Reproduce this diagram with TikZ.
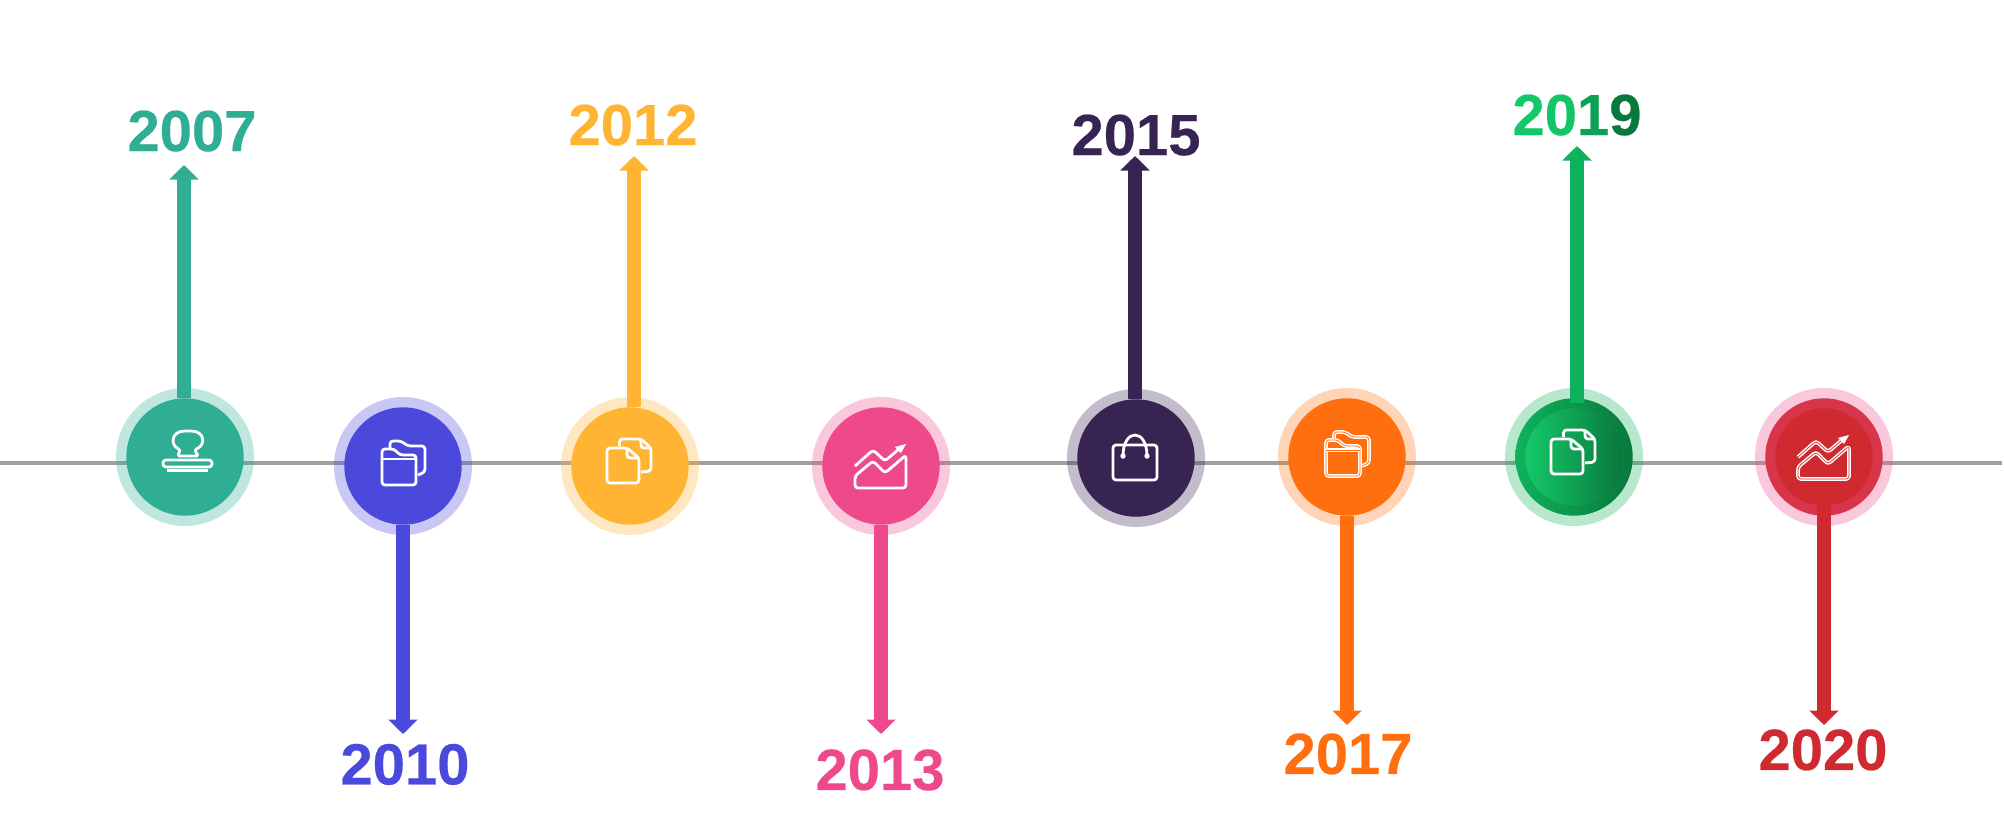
\documentclass[tikz,border=0pt]{standalone}
\usepackage{fontspec}
\setmainfont[BoldFeatures={FakeBold=0.4}]{Liberation Sans}
\usepackage{xcolor}
\usetikzlibrary{arrows.meta, positioning}
\definecolor{hubteal}{RGB}{47,174,148}
\definecolor{hubindigo}{RGB}{75,73,219}
\definecolor{hubamber}{RGB}{255,180,51}
\definecolor{hubpink}{RGB}{238,74,139}
\definecolor{hubplum}{RGB}{56,36,83}
\definecolor{huborange}{RGB}{255,111,16}
\definecolor{hubgreen}{RGB}{15,178,92}
\definecolor{hubgreenlight}{RGB}{20,200,105}
\definecolor{hubgreendark}{RGB}{9,120,60}
\definecolor{hubred}{RGB}{207,42,48}
\definecolor{hubredlight}{RGB}{216,52,74}
\definecolor{axisgray}{RGB}{160,160,160}

\tikzset{
  iconline/.style={draw=white, line width=1.4pt, rounded corners=1.5pt, line join=round},
  pics/stampicon/.style={code={
    \draw[iconline] (-8,-1) -- (-4,-7) .. controls (-15,-12) and (-14,-26) .. (3,-26)
      .. controls (20,-26) and (21,-12) .. (9,-7) -- (14,-1) -- cycle;
    \draw[iconline] (-22,3) rectangle (27,10);
    \draw[iconline] (-18,13.5) -- (23,13.5);
  }},
  pics/foldericon/.style={code={
    \draw[iconline,#1] (-21,19) -- (-21,-17) -- (-9,-17) -- (-3,-11) -- (13,-11) -- (13,19) -- cycle;
    \draw[iconline,#1] (-21,-7) -- (13,-7);
    \draw[iconline,#1] (-13,-18) -- (-13,-25) -- (-2,-25) -- (5,-20) -- (22,-20) -- (22,6) -- (15,9);
  }},
  pics/foldericon/.default={},
  pics/pageicon/.style={code={
    \draw[iconline] (-23,17) -- (-23,-18) -- (-3,-18) -- (9,-8) -- (9,17) -- cycle;
    \draw[iconline] (-3,-18) -- (-3,-8) -- (9,-8);
    \draw[iconline] (-10.5,-20) -- (-10.5,-27) -- (11,-27) -- (21,-18) -- (21,5) -- (11,6);
    \draw[iconline] (11,-27) -- (11,-18) -- (21,-18);
  }},
  pics/charticon/.style={code={
    \draw[iconline,#1] (-26,0) -- (-8,-16) -- (4,-5) -- (18,-17);
    \fill[white] (25,-22) -- (14,-19) -- (20,-13) -- cycle;
    \draw[iconline,#1] (-26,22) -- (-26,10) -- (-8,-5) -- (4,7) -- (25,-11) -- (25,22) -- cycle;
  }},
  pics/charticon/.default={},
  pics/bagicon/.style={code={
    \draw[iconline] (-23,-13) rectangle (21,22);
    \draw[iconline] (-13,-2) .. controls (-13,-30) and (11,-30) .. (11,-2);
    \fill[white] (-13,-2) circle (1.35pt) (11,-2) circle (1.35pt);
  }}
}

\begin{document}
\begin{tikzpicture}[
    x=0.5pt, y=-0.5pt,
    hubring/.style={circle, minimum size=69pt, inner sep=0pt, fill opacity=0.3},
    hubcore/.style={circle, minimum size=58.7pt, inner sep=0pt},
    hubinner/.style={circle, minimum size=48.7pt, inner sep=0pt},
    stem/.style={-{Triangle[length=7.25pt,width=14.3pt]}, line width=7pt},
    yearlabel/.style={font=\fontsize{29}{30}\selectfont\bfseries, inner sep=0pt}
  ]
    \useasboundingbox (0,0) rectangle (2004,837);

    % axis
    \coordinate (axisL) at (0,463);
    \coordinate (axisR) at (2002,463);
    \draw[axisgray, line width=2pt] (axisL) -- (axisR);

    % rings
    \node[hubring, fill=hubteal]   (ring1) at (185,457) {};
    \node[hubring, fill=hubindigo] (ring2) at (403,466) {};
    \node[hubring, fill=hubamber]  (ring3) at (630,466) {};
    \node[hubring, fill=hubpink]   (ring4) at (881,466) {};
    \node[hubring, fill=hubplum]   (ring5) at (1136,458) {};
    \node[hubring, fill=huborange] (ring6) at (1347,457) {};
    \node[hubring, fill=hubgreen]  (ring7) at (1574,457) {};
    \node[hubring, fill=hubpink]   (ring8) at (1824,457) {};

    % hubs
    \node[hubcore, fill=hubteal]   (hub1) at (ring1) {};
    \node[hubcore, fill=hubindigo] (hub2) at (ring2) {};
    \node[hubcore, fill=hubamber]  (hub3) at (ring3) {};
    \node[hubcore, fill=hubpink]   (hub4) at (ring4) {};
    \node[hubcore, fill=hubplum]   (hub5) at (ring5) {};
    \node[hubcore, fill=huborange] (hub6) at (ring6) {};
    \node[hubcore, left color=hubgreen, middle color=hubgreen!85!black, right color=hubgreendark] (hub7) at (ring7) {};
    \node[hubcore, fill=hubredlight] (hub8) at (ring8) {};
    \node[hubinner, left color=hubgreenlight, middle color=hubgreen, right color=hubgreendark] (core7) at (ring7) {};
    \node[hubinner, fill=hubred] (core8) at (ring8) {};

    % arrow ends
    \coordinate (tip1) at (184,165);
    \coordinate (tip2) at (403,734);
    \coordinate (tip3) at (634,156);
    \coordinate (tip4) at (881,734);
    \coordinate (tip5) at (1135,156);
    \coordinate (tip6) at (1347,725);
    \coordinate (tip7) at (1577,146);
    \coordinate (tip8) at (1824,725);

    \draw[stem, hubteal]   (hub1.north -| tip1) -- (tip1);
    \draw[stem, hubindigo] (hub2.south -| tip2) -- (tip2);
    \draw[stem, hubamber]  (hub3.north -| tip3) -- (tip3);
    \draw[stem, hubpink]   (hub4.south -| tip4) -- (tip4);
    \draw[stem, hubplum]   (hub5.north -| tip5) -- (tip5);
    \draw[stem, huborange] (hub6.south -| tip6) -- (tip6);
    \draw[stem, hubgreen, shorten <=-2.7pt] (hub7.north -| tip7) -- (tip7);
    \draw[stem, hubred, shorten <=-5.5pt]   (hub8.south -| tip8) -- (tip8);

    % years
    \node[yearlabel, text=hubteal,   above=6.5pt of tip1, xshift=4pt]    (year1) {2007};
    \node[yearlabel, text=hubindigo, below=4.75pt of tip2, xshift=1pt]   (year2) {2010};
    \node[yearlabel, text=hubamber,  above=5pt of tip3, xshift=-0.5pt]   (year3) {2012};
    \node[yearlabel, text=hubpink,   below=7.5pt of tip4, xshift=-0.5pt] (year4) {2013};
    \node[yearlabel, text=hubplum,   above=0pt of tip5, xshift=0.5pt]    (year5) {2015};
    \node[yearlabel, text=huborange, below=4pt of tip6, xshift=0.5pt]    (year6) {2017};
    \node[yearlabel, above=5pt of tip7] (year7) {\textcolor{hubgreenlight}{2}\textcolor{hubgreenlight!85!hubgreen}{0}\textcolor{hubgreen!90!black}{1}\textcolor{hubgreendark}{9}};
    \node[yearlabel, text=hubred,    below=2pt of tip8, xshift=-0.5pt]   (year8) {2020};

    % icons
    \pic at (hub1) {stampicon};
    \pic at (hub2) {foldericon};
    \pic at (hub3) {pageicon};
    \pic at (hub4) {charticon};
    \pic at (hub5) {bagicon};
    \pic at (hub6) {foldericon={line width=.75pt, double=huborange, double distance=.35pt}};
    \pic at (hub7) {pageicon};
    \pic at (hub8) {charticon={line width=.75pt, double=hubred, double distance=.35pt}};
  \end{tikzpicture}
\end{document}
